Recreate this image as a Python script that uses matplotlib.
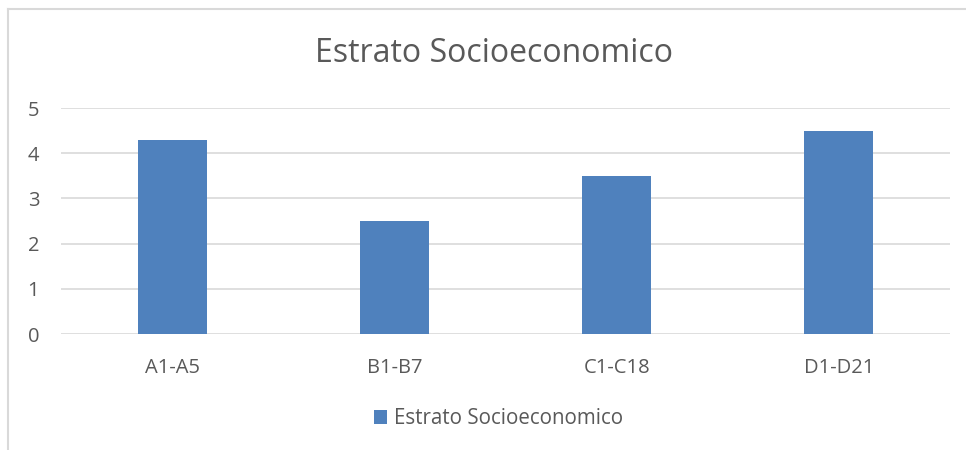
import matplotlib.pyplot as plt

categories = ["A1-A5", "B1-B7", "C1-C18", "D1-D21"]
values = [4.3, 2.5, 3.5, 4.5]
series_name = "Estrato Socioeconomico"
title = "Estrato Socioeconomico"

plt.rcParams['font.family'] = ['Open Sans', 'DejaVu Sans']

fig = plt.figure(figsize=(9.66, 4.5), dpi=100)
ax = fig.add_axes([61 / 966, 1 - 334 / 450, (950 - 61) / 966, (334 - 108) / 450])

ax.bar(range(len(categories)), values, width=0.31, color='#4F81BD', label=series_name, zorder=3)
ax.set_xlim(-0.5, len(categories) - 0.5)
ax.set_ylim(0, 5)
ax.set_yticks(range(0, 6))
ax.set_xticks(range(len(categories)))
ax.set_xticklabels(categories)
ax.grid(axis='y', color='#D9D9D9', linewidth=1.2, zorder=0)
for s in ax.spines.values():
    s.set_visible(False)
ax.tick_params(length=0, colors='#595959', labelsize=14.5)
ax.tick_params(axis='x', pad=17)
ax.tick_params(axis='y', pad=24)
for lbl in ax.get_yticklabels():
    lbl.set_horizontalalignment('left')

fig.text(0.511, 1 - 54 / 450, title, ha='center', va='center', fontsize=23, color='#595959')

handles, labels = ax.get_legend_handles_labels()
fig.legend(handles, labels, loc='center', bbox_to_anchor=(0.516, 1 - 419 / 450), frameon=False,
           fontsize=14.8, labelcolor='#595959', handlelength=0.65, handleheight=0.65,
           handletextpad=0.3)

# chart border (left and top visible)
fig.add_artist(plt.Line2D([8 / 966, 8 / 966], [0, 1 - 9 / 450], transform=fig.transFigure,
                          color='#D9D9D9', linewidth=1.5))
fig.add_artist(plt.Line2D([8 / 966, 1], [1 - 9 / 450, 1 - 9 / 450], transform=fig.transFigure,
                          color='#D9D9D9', linewidth=1.5))

fig.savefig("out.png", dpi=100)
